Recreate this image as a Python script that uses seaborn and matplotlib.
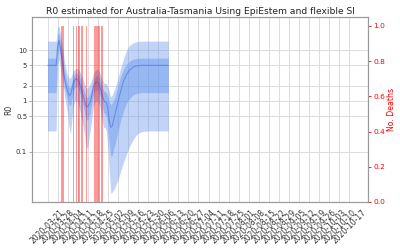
import matplotlib
matplotlib.use("Agg")
import matplotlib.pyplot as plt
from matplotlib.ticker import FixedLocator, FixedFormatter, NullLocator
import pandas as pd
import seaborn as sns

sns.set_theme(style="whitegrid")
plt.rcParams["font.family"] = ["DejaVu Sans"]

# ---- data ----
dates = ["2020-03-21", "2020-03-27", "2020-03-28", "2020-03-29", "2020-03-30",
         "2020-03-31", "2020-04-01", "2020-04-02", "2020-04-03", "2020-04-04",
         "2020-04-05", "2020-04-06", "2020-04-07", "2020-04-08", "2020-04-09",
         "2020-04-10", "2020-04-11", "2020-04-12", "2020-04-13", "2020-04-14",
         "2020-04-15", "2020-04-16", "2020-04-17", "2020-04-18", "2020-04-19",
         "2020-04-20", "2020-04-21", "2020-04-22", "2020-04-23", "2020-04-24",
         "2020-04-25", "2020-04-26", "2020-04-27", "2020-04-28", "2020-04-29",
         "2020-04-30", "2020-05-01", "2020-05-02", "2020-05-03", "2020-05-04",
         "2020-05-05", "2020-05-07", "2020-05-09", "2020-05-11", "2020-05-13",
         "2020-05-15", "2020-05-17", "2020-05-19", "2020-05-21", "2020-05-23",
         "2020-05-26", "2020-05-30", "2020-06-13"]
r_mean = [5, 5, 12, 15.5, 11, 6.9, 4.2, 2.6, 1.9, 1.5,
          1.3, 1.3, 1.7, 2.2, 2.6, 2.75, 2.6, 2.3, 1.9, 1.5,
          1.2, 0.95, 0.78, 0.76, 0.85, 1.0, 1.4, 1.9, 2.2, 2.37,
          2.3, 2.05, 1.7, 1.3, 1.05, 0.95, 0.93, 0.7, 0.4, 0.3,
          0.32, 0.55, 0.95, 1.6, 2.5, 3.3, 4.0, 4.5, 4.8, 4.95,
          5.0, 5.0, 5.0]
r_lo50 = [1.45, 1.45, 8.0, 10.5, 7.5, 4.6, 2.9, 1.8, 1.3, 1.0,
          0.85, 0.8, 1.1, 1.5, 1.8, 1.95, 1.8, 1.55, 1.25, 0.95,
          0.75, 0.55, 0.42, 0.42, 0.5, 0.65, 0.95, 1.3, 1.55, 1.65,
          1.6, 1.4, 1.1, 0.8, 0.6, 0.55, 0.5, 0.3, 0.15, 0.08,
          0.085, 0.14, 0.25, 0.42, 0.65, 0.9, 1.1, 1.27, 1.37, 1.43,
          1.45, 1.45, 1.45]
r_hi50 = [6.95, 6.95, 20, 21, 15, 10, 6.0, 3.7, 2.7, 2.1,
          1.85, 1.9, 2.4, 3.0, 3.4, 3.6, 3.4, 3.1, 2.6, 2.1,
          1.7, 1.4, 1.2, 1.15, 1.3, 1.5, 1.95, 2.6, 2.95, 3.2,
          3.1, 2.9, 2.4, 1.9, 1.6, 1.5, 1.45, 1.2, 0.95, 0.85,
          0.9, 1.2, 2.0, 3.1, 4.3, 5.3, 6.0, 6.5, 6.8, 6.9,
          6.95, 6.95, 6.95]
r_lo95 = [0.256, 0.256, 5.0, 6.5, 4.5, 3.0, 1.9, 1.2, 0.8, 0.55,
          0.3, 0.22, 0.45, 0.8, 1.0, 1.0, 0.9, 0.75, 0.55, 0.4,
          0.3, 0.2, 0.12, 0.12, 0.2, 0.3, 0.5, 0.8, 0.95, 1.0,
          0.95, 0.85, 0.6, 0.4, 0.3, 0.3, 0.25, 0.12, 0.04, 0.015,
          0.016, 0.02, 0.028, 0.042, 0.063, 0.09, 0.125, 0.16, 0.2, 0.23,
          0.25, 0.256, 0.256]
r_hi95 = [15.0, 15.0, 28, 29, 21, 14, 9, 5.5, 4.0, 3.2,
          2.8, 2.8, 3.3, 3.9, 4.2, 4.4, 4.3, 4.0, 3.5, 3.0,
          2.5, 2.1, 1.8, 1.8, 2.0, 2.3, 2.8, 3.5, 3.9, 4.2,
          4.1, 3.8, 3.2, 2.6, 2.3, 2.2, 2.2, 1.9, 1.5, 1.2,
          1.3, 1.8, 2.8, 4.5, 7.0, 10, 12.3, 13.6, 14.4, 14.8,
          15.0, 15.0, 15.0]

death_dates = ["2020-03-31", "2020-04-01", "2020-04-08", "2020-04-10",
               "2020-04-12", "2020-04-14", "2020-04-17", "2020-04-23",
               "2020-04-24", "2020-04-25", "2020-04-26", "2020-04-28"]
death_counts = [1, 1, 1, 1, 1, 1, 1, 1, 1, 1, 1, 1]

r_ticks = [0.1, 0.5, 1, 2, 5, 10]
r_tick_labels = ["0.1", "0.5", "1", "2", "5", "10"]
deaths_ticks = [0.0, 0.2, 0.4, 0.6, 0.8, 1.0]
deaths_tick_labels = ["0.0", "0.2", "0.4", "0.6", "0.8", "1.0"]
title = "R0 estimated for Australia-Tasmania Using EpiEstem and flexible SI"

df = pd.DataFrame({"date": pd.to_datetime(dates), "mean": r_mean,
                   "lo50": r_lo50, "hi50": r_hi50, "lo95": r_lo95, "hi95": r_hi95})
deaths = pd.DataFrame({"date": pd.to_datetime(death_dates), "n": death_counts})

# ---- figure ----
fig = plt.figure(figsize=(4, 2.5), dpi=100)
ax = fig.add_axes([0.08, 0.192, 0.841, 0.74])

grid_col = "#dcdcdc"
spine_col = "#9a9a9a"

ax.fill_between(df["date"], df["lo95"], df["hi95"], color="cornflowerblue",
                alpha=0.4, lw=0, zorder=2)
ax.fill_between(df["date"], df["lo50"], df["hi50"], color="cornflowerblue",
                alpha=0.45, lw=0, zorder=2)
sns.lineplot(data=df, x="date", y="mean", ax=ax, color="royalblue",
             lw=0.8, alpha=0.55, zorder=3)

ax.set_yscale("log")
ax.set_ylim(0.0102, 44.8)
ax.yaxis.set_major_locator(FixedLocator(r_ticks))
ax.yaxis.set_major_formatter(FixedFormatter(r_tick_labels))
ax.yaxis.set_minor_locator(NullLocator())
ax.set_ylabel("R0", fontsize=5.5, labelpad=2, color="#333333")
ax.set_xlabel("")
ax.set_title(title, fontsize=6.6, pad=2, color="#222222")

ax2 = ax.twinx()
ax2.bar(deaths["date"], deaths["n"], width=1, color="red", alpha=0.4, lw=0)
ax2.set_ylim(0, 1.05)
ax2.yaxis.set_major_locator(FixedLocator(deaths_ticks))
ax2.yaxis.set_major_formatter(FixedFormatter(deaths_tick_labels))
ax2.set_ylabel("No. Deaths", color="red", fontsize=5.6, labelpad=1)
ax2.grid(False)
ax2.tick_params(axis="y", colors="red", labelsize=5.4, length=2, width=0.6,
                pad=1.5)
for s in ax2.spines.values():
    s.set_color(spine_col)
    s.set_linewidth(0.8)

xticks = pd.date_range("2020-03-21", "2020-10-17", freq="7D")
ax.set_xticks(xticks)
ax.set_xticklabels([t.strftime("%Y-%m-%d") for t in xticks], rotation=45,
                   fontsize=5.5, color="#333333")
ax.set_xlim(pd.Timestamp("2020-03-10 05:00"), pd.Timestamp("2020-10-30 05:00"))
ax.tick_params(axis="x", length=0, pad=4)
ax.tick_params(axis="y", labelsize=5, length=2, width=0.6, color=spine_col,
               left=True, pad=1.5, labelcolor="#333333")
ax.grid(True, color=grid_col, lw=0.7)
ax.set_axisbelow(True)
for s in ax.spines.values():
    s.set_color(spine_col)
    s.set_linewidth(0.8)

fig.savefig("out.png", dpi=100)
